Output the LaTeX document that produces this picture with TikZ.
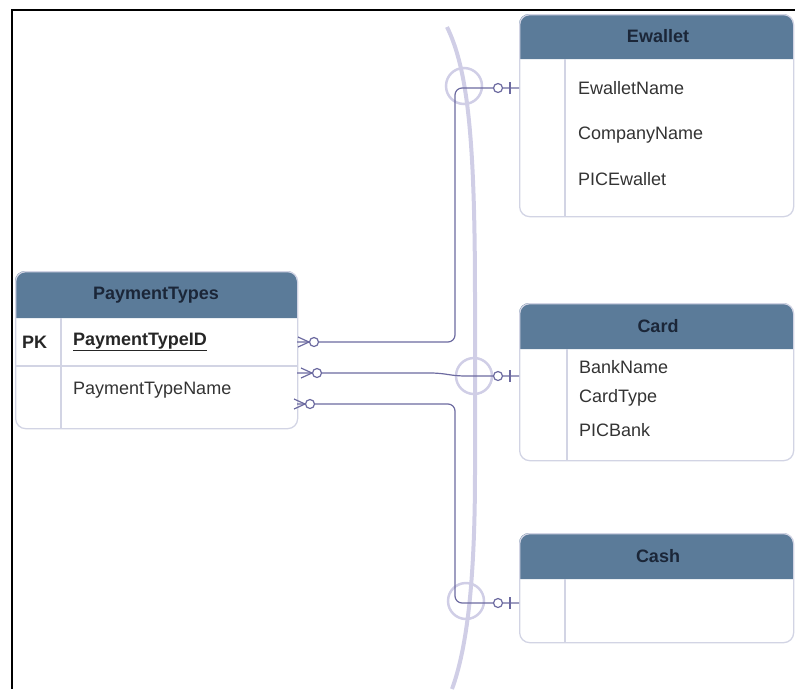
\documentclass[tikz,border=0pt]{standalone}
\usepackage{fontspec}
\setmainfont{Liberation Sans}
\definecolor{headblue}{RGB}{91,123,153}
\definecolor{headtext}{RGB}{27,38,56}
\definecolor{boxline}{RGB}{210,212,228}
\definecolor{relline}{RGB}{108,106,160}
\definecolor{hubline}{RGB}{208,206,230}
\tikzset{
  tblbox/.style={draw=boxline, line width=1.3pt, rounded corners=10pt, inner sep=0pt, anchor=north west},
  tblrule/.style={draw=boxline, line width=1.3pt},
  tbltitle/.style={font=\fontsize{18}{21}\selectfont\bfseries, text=headtext, inner sep=0pt},
  attr/.style={font=\fontsize{18}{21}\selectfont, text=black!80, anchor=west, inner sep=0pt},
  keyattr/.style={attr, font=\fontsize{18}{21}\selectfont\bfseries, text=black!85},
  rel/.style={draw=relline, line width=1.2pt, rounded corners=7pt},
  relmark/.style={draw=relline, line width=1.2pt},
  hubring/.style={draw=hubline, line width=2.5pt},
}

\begin{document}
\begin{tikzpicture}[x=1pt, y=-1pt]
    \useasboundingbox (0,0) rectangle (795,689);
    \draw[line width=2pt] (795,10) -- (12,10) -- (12,689);
    % the bracket and the hub rings behind the relations
    \draw[hubline, line width=4pt] (447,27) .. controls (468,70) and (475,140) .. (475,300)
        -- (475,470) .. controls (475,560) and (470,640) .. (452,689);
    \draw[hubring] (464,86) circle (18pt);
    \draw[hubring] (474,376) circle (18pt);
    \draw[hubring] (466,601) circle (18pt);

    % PaymentTypes
    \fill[headblue] (15,318) [rounded corners=10pt] -- (15,271) -- (297,271) [sharp corners] -- (297,318) -- cycle;
    \node[tblbox, minimum width=282pt, minimum height=157pt] (pay) at (15,271) {};
    \draw[tblrule] (61,318) -- (61,428);
    \draw[tblrule] (15,366) -- (297,366);
    \node[tbltitle] (pay-title) at (156,295) {PaymentTypes};
    \node[keyattr] (pay-pk) at (22,342) {PK};
    \node[keyattr] (pay-id) at (73,342) {\underline{PaymentTypeID}};
    \node[attr] (pay-name) at (73,390) {PaymentTypeName};

    % subtype tables
    \foreach \tname/\ttitle/\ttop/\thead/\tbot/\tdiv in
        {ewallet/Ewallet/14/59/216/565, card/Card/303/349/460/567, cash/Cash/533/579/642/565}{
        \fill[headblue] (519,\thead) [rounded corners=10pt] -- (519,\ttop) -- (793,\ttop) [sharp corners] -- (793,\thead) -- cycle;
        \node[tblbox, minimum width=274pt, minimum height={(\tbot-\ttop)*1pt}] (\tname) at (519,\ttop) {};
        \draw[tblrule] (\tdiv,\thead) -- (\tdiv,\tbot);
        \node[tbltitle] (\tname-title) at (658,{(\ttop+\thead)/2}) {\ttitle};
    }
    \node[attr] (ewallet-a1) at (578,88) {EwalletName};
    \node[attr] (ewallet-a2) at (578,135) {CompanyName};
    \node[attr] (ewallet-a3) at (578,179) {PICEwallet};
    \node[attr] (card-a1) at (579,367) {BankName};
    \node[attr] (card-a2) at (579,398) {CardType};
    \node[attr] (card-a3) at (579,430) {PICBank};

    % relations
    \coordinate (pay-r1) at (297,342);
    \coordinate (pay-r2) at (297,373);
    \coordinate (pay-r3) at (297,404);
    \coordinate (ewallet-in) at (519,88);
    \coordinate (card-in) at (519,376);
    \coordinate (cash-in) at (519,603);
    \draw[rel] (pay-r1) -- (455,342) |- (ewallet-in);
    \draw[rel] (pay-r2) -- (438,373) -- (458,376) -- (card-in);
    \draw[rel] (pay-r3) -- (455,404) |- (cash-in);

    % zero or many
    \foreach \y/\fx in {342/298, 373/301, 404/294}{
        \draw[relmark] (\fx,\y-5) -- (\fx+11,\y) -- (\fx,\y+5);
        \draw[relmark, fill=white] (\fx+16,\y) circle (4.5pt);
    }
    % zero or one
    \foreach \y in {88,376,603}{
        \draw[relmark, fill=white] (498,\y) circle (4.5pt);
        \draw[relmark] (510,\y-6) -- (510,\y+6);
    }
\end{tikzpicture}
\end{document}
